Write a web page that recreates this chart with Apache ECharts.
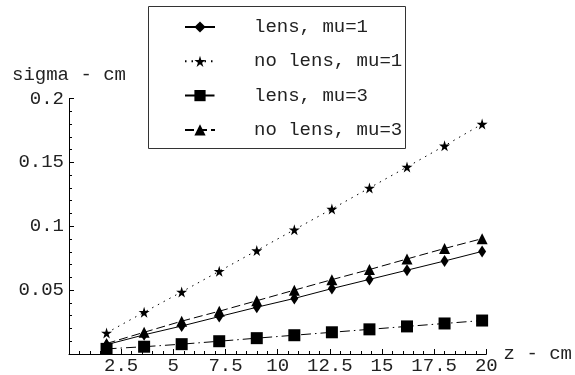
<!DOCTYPE html>
<html>
<head>
<meta charset="utf-8">
<script src="https://cdn.jsdelivr.net/npm/echarts@6/dist/echarts.min.js"></script>
<style>
    html, body { margin: 0; padding: 0; background: #fff; }
    #chart { width: 575px; height: 375px; }
</style>
</head>
<body>
<div id="chart"></div>
<script>
var zValues = [1.8, 3.6, 5.4, 7.2, 9, 10.8, 12.6, 14.4, 16.2, 18, 19.8];
var lensMu1 = [0.0073, 0.0150, 0.0219, 0.0293, 0.0366, 0.0435, 0.0512, 0.0584, 0.0656, 0.0728, 0.0803];
var noLensMu1 = [0.0165, 0.0327, 0.0486, 0.0648, 0.0810, 0.0973, 0.1135, 0.1300, 0.1464, 0.1630, 0.1800];
var lensMu3 = [0.0040, 0.0057, 0.0077, 0.0100, 0.0124, 0.0147, 0.0170, 0.0193, 0.0216, 0.0239, 0.0262];
var noLensMu3 = [0.0082, 0.0170, 0.0257, 0.0335, 0.0417, 0.0500, 0.0582, 0.0661, 0.0744, 0.0826, 0.0903];
var seriesNames = ['lens, mu=1', 'no lens, mu=1', 'lens, mu=3', 'no lens, mu=3'];

var starPath = 'path://M50,0 L61,35 L98,35 L68,57 L79,91 L50,70 L21,91 L32,57 L2,35 L39,35 Z';
var monoFont = 'Liberation Mono';

function pairs(ys) {
    var out = [];
    for (var i = 0; i < zValues.length; i++) {
        out.push([zValues[i], ys[i]]);
    }
    return out;
}

function makeSeries(name, ys, symbol, size, dash) {
    return {
        name: name,
        type: 'line',
        data: pairs(ys),
        symbol: symbol,
        symbolSize: size,
        showAllSymbol: true,
        itemStyle: { color: '#000' },
        lineStyle: { color: '#000', width: 1, type: dash },
        animation: false
    };
}

var myChart = echarts.init(document.getElementById('chart'));
var option = {
    backgroundColor: '#fff',
    textStyle: { fontFamily: monoFont },
    grid: { left: 69, right: 87, top: 98.5, bottom: 17.7 },
    xAxis: {
        type: 'value',
        min: 0,
        max: 20,
        interval: 2.5,
        name: 'z - cm',
        nameLocation: 'end',
        nameGap: 14,
        nameTextStyle: { fontFamily: monoFont, fontSize: 19, color: '#222', verticalAlign: 'middle' },
        axisLine: { lineStyle: { color: '#000', width: 1 } },
        axisTick: { inside: true, length: 5, lineStyle: { color: '#000' } },
        minorTick: { show: true, splitNumber: 5, length: 3, lineStyle: { color: '#000' } },
        splitLine: { show: false },
        axisLabel: {
            margin: 2,
            fontFamily: monoFont,
            fontSize: 19,
            color: '#222',
            formatter: function (v) { return v === 0 ? '' : String(v); }
        }
    },
    yAxis: {
        type: 'value',
        min: 0,
        max: 0.2,
        interval: 0.05,
        name: 'sigma - cm',
        nameLocation: 'end',
        nameGap: 14,
        nameTextStyle: { fontFamily: monoFont, fontSize: 19, color: '#222' },
        axisLine: { show: true, lineStyle: { color: '#000', width: 1 } },
        axisTick: { show: true, inside: true, length: 5, lineStyle: { color: '#000' } },
        minorTick: { show: true, splitNumber: 5, length: 3, lineStyle: { color: '#000' } },
        splitLine: { show: false },
        axisLabel: {
            margin: 5,
            fontFamily: monoFont,
            fontSize: 19,
            color: '#222',
            formatter: function (v) { return v === 0 ? '' : String(+v.toFixed(2)); }
        }
    },
    legend: {
        orient: 'vertical',
        left: 184,
        top: 17,
        padding: 0,
        itemWidth: 30,
        itemHeight: 14,
        itemGap: 14.3,
        data: seriesNames,
        textStyle: { fontFamily: monoFont, fontSize: 19, color: '#222', lineHeight: 20, padding: [0, 0, 0, 34] }
    },
    graphic: [{
        type: 'rect',
        shape: { x: 148.5, y: 6.5, width: 257, height: 142 },
        style: { fill: 'none', stroke: '#333', lineWidth: 1 },
        z: 100
    }],
    series: [
        makeSeries(seriesNames[0], lensMu1, 'diamond', [8, 12], 'solid'),
        makeSeries(seriesNames[1], noLensMu1, starPath, 11, [1.5, 5]),
        makeSeries(seriesNames[2], lensMu3, 'rect', 12, [10, 4, 1.5, 4]),
        makeSeries(seriesNames[3], noLensMu3, 'triangle', 11, [9, 4])
    ]
};
myChart.setOption(option);
</script>
</body>
</html>
